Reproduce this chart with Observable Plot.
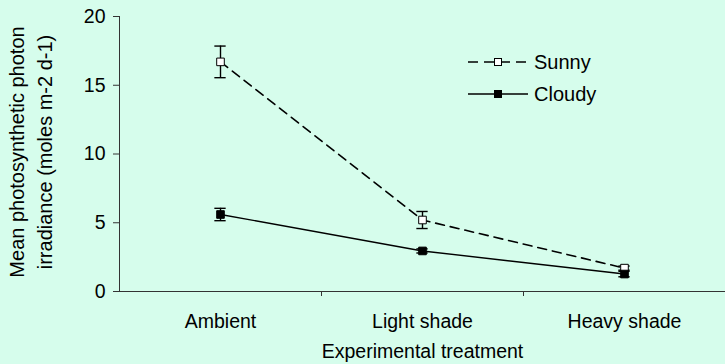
<!DOCTYPE html>
<html>
<head>
<meta charset="utf-8">
<script src="https://cdn.jsdelivr.net/npm/d3@7"></script>
<script src="https://cdn.jsdelivr.net/npm/@observablehq/plot@0.6"></script>
<style>
  html, body { margin: 0; padding: 0; background: #d6fdec; }
  #wrap { position: relative; width: 725px; height: 364px; font-family: "Liberation Sans", Arial, sans-serif; }
  #legend { position: absolute; left: 466px; top: 46px; }
  .item { display: flex; align-items: center; height: 32px; font-size: 20px; color: #000; }
  .item svg { margin-right: 4px; }
</style>
</head>
<body>
<div id="wrap"><div id="chart"></div><div id="legend"></div></div>
<script>
const categories = ["Ambient", "Light shade", "Heavy shade"];
const seriesNames = ["Sunny", "Cloudy"];
const sunnyMean = [16.7, 5.2, 1.7];
const sunnyErr = [1.15, 0.62, 0.15];
const cloudyMean = [5.6, 2.95, 1.27];
const cloudyErr = [0.45, 0.15, 0.2];
const yTicks = [0, 5, 10, 15, 20];

const rows = [];
categories.forEach((c, i) => {
  rows.push({series: "Sunny", i, cat: c, v: sunnyMean[i], e: sunnyErr[i]});
  rows.push({series: "Cloudy", i, cat: c, v: cloudyMean[i], e: cloudyErr[i]});
});
const sunny = rows.filter(d => d.series === "Sunny");
const cloudy = rows.filter(d => d.series === "Cloudy");
const cap = 0.028;
const font = "Liberation Sans, Arial, sans-serif";

const chart = Plot.plot({
  width: 725,
  height: 364,
  marginLeft: 119,
  marginRight: 0,
  marginTop: 16,
  marginBottom: 73,
  style: {background: "transparent", fontFamily: font, fontSize: "19px", color: "#000"},
  x: {type: "linear", domain: [-0.5, categories.length - 0.5]},
  y: {domain: [0, 20]},
  marks: [
    Plot.ruleY([0], {stroke: "#333", strokeWidth: 1}),
    Plot.ruleX([-0.5], {y1: 0, y2: 20, stroke: "#333", strokeWidth: 1}),
    Plot.axisY({ticks: yTicks, tickSize: 6, tickPadding: 8, stroke: "#333", fill: "#000", label: null, fontSize: 19.5}),
    Plot.axisX({ticks: d3.range(categories.length - 1).map(i => i + 0.5), tickSize: 5, tickFormat: () => "", stroke: "#333", label: null}),
    Plot.axisX({ticks: d3.range(categories.length), tickSize: 0, tickPadding: 23, tickFormat: i => categories[i], fill: "#000", label: null, fontSize: 19.5}),
    Plot.text(["Experimental treatment"], {frameAnchor: "bottom", dy: 60, lineAnchor: "middle", textAnchor: "middle", fontSize: 19.5, fill: "#000"}),
    Plot.text(["Mean photosynthetic photon\nirradiance (moles m-2 d-1)"], {frameAnchor: "left", dx: -90, dy: -2, rotate: -90, textAnchor: "middle", lineAnchor: "middle", fontSize: 20, lineHeight: 1.4, fill: "#000"}),
    Plot.line(sunny, {x: "i", y: "v", stroke: "#000", strokeWidth: 1.6, strokeDasharray: "9,6"}),
    Plot.line(cloudy, {x: "i", y: "v", stroke: "#000", strokeWidth: 1.4}),
    Plot.ruleX(rows, {x: "i", y1: d => d.v - d.e, y2: d => d.v + d.e, stroke: "#000", strokeWidth: 1.4}),
    Plot.ruleY(rows, {y: d => d.v - d.e, x1: d => d.i - cap, x2: d => d.i + cap, stroke: "#000", strokeWidth: 1.4}),
    Plot.ruleY(rows, {y: d => d.v + d.e, x1: d => d.i - cap, x2: d => d.i + cap, stroke: "#000", strokeWidth: 1.4}),
    Plot.dot(sunny, {x: "i", y: "v", symbol: "square", r: 4.3, fill: "#fff", stroke: "#000", strokeWidth: 1}),
    Plot.dot(cloudy, {x: "i", y: "v", symbol: "square", r: 4.3, fill: "#000", stroke: "#000", strokeWidth: 1})
  ]
});
document.getElementById("chart").appendChild(chart);

const legend = document.getElementById("legend");
seriesNames.forEach(name => {
  const dashed = name === "Sunny";
  const item = document.createElement("div");
  item.className = "item";
  item.innerHTML = `<svg width="64" height="12"><line x1="2" y1="6" x2="62" y2="6" stroke="#000" stroke-width="${dashed ? 1.6 : 1.4}" ${dashed ? 'stroke-dasharray="10,6"' : ''}/><rect x="28.5" y="2.5" width="7" height="7" fill="${dashed ? '#fff' : '#000'}" stroke="#000" stroke-width="1"/></svg><span>${name}</span>`;
  legend.appendChild(item);
});
</script>
</body>
</html>
